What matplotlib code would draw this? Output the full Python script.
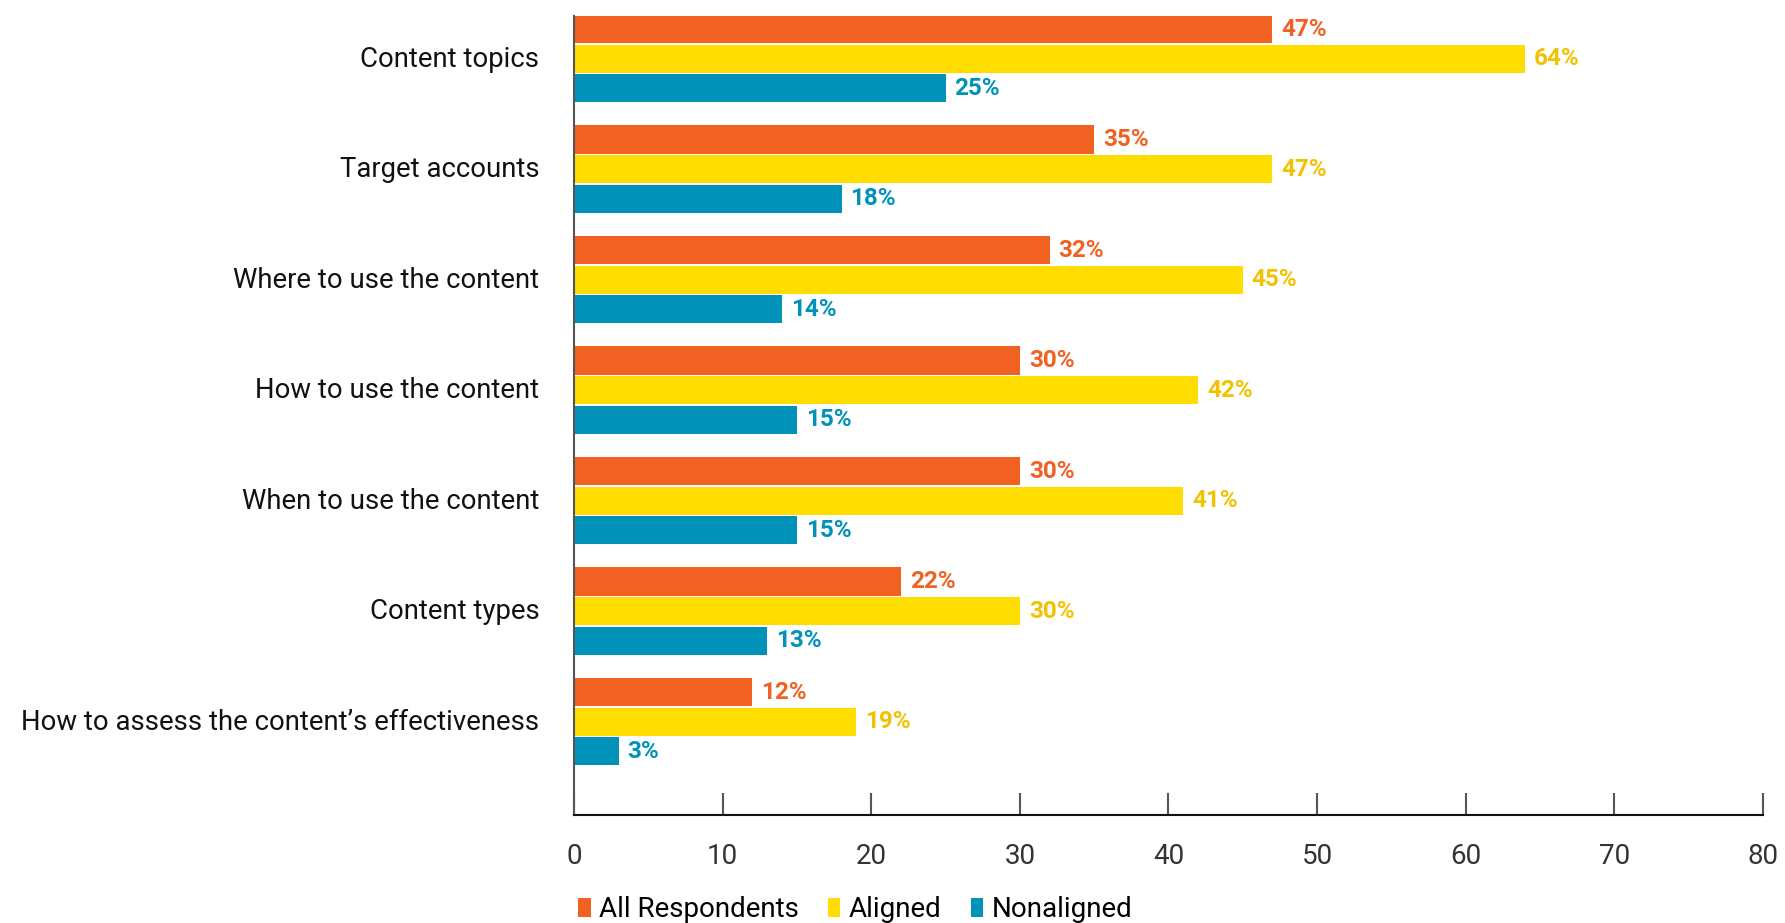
import matplotlib.pyplot as plt
import numpy as np

plt.rcParams['font.family'] = ['Roboto', 'DejaVu Sans']

# datos
categorias = ["Content topics", "Target accounts", "Where to use the content",
              "How to use the content", "When to use the content", "Content types",
              "How to assess the content\u2019s effectiveness"]
todos = [47, 35, 32, 30, 30, 22, 12]
alineados = [64, 47, 45, 42, 41, 30, 19]
no_alineados = [25, 18, 14, 15, 15, 13, 3]
series = ["All Respondents", "Aligned", "Nonaligned"]

colores = ["#F06122", "#FFDD00", "#0092B8"]
colores_txt = ["#F06122", "#F2C200", "#0092B8"]

fig = plt.figure(figsize=(17.85, 9.23), dpi=100)
ax = fig.add_axes([0.3216, 0.117, 0.666, 0.8657])

y = np.arange(len(categorias))
alto = 0.255
paso = 0.268
for k, (vals, nombre) in enumerate(zip([todos, alineados, no_alineados], series)):
    pos = y + (k - 1) * paso
    ax.barh(pos, vals, height=alto, color=colores[k], label=nombre)
    for p, v in zip(pos, vals):
        ax.text(v + 0.6, p, f"{v}%", va="center", ha="left", fontsize=17.5,
                fontweight="bold", color=colores_txt[k])

ax.set_ylim(6.845, -0.386)
ax.set_xlim(0, 80)
ax.set_xticks(range(0, 81, 10))
ax.set_yticks(y - 0.02)
ax.set_yticklabels(categorias, fontsize=19.8, color="#111111")
ax.tick_params(axis="y", length=0, pad=25)
ax.tick_params(axis="x", direction="in", length=16, width=1.5, color="#555555",
               labelsize=20, labelcolor="#333333", pad=20)

for s in ["top", "right"]:
    ax.spines[s].set_visible(False)
ax.spines["left"].set_color("#555555")
ax.spines["left"].set_linewidth(1.5)
ax.spines["bottom"].set_color("#111111")
ax.spines["bottom"].set_linewidth(1.5)

ax.legend(loc="upper left", bbox_to_anchor=(-0.006, -0.088), ncol=3, frameon=False,
          fontsize=20, handlelength=0.45, handleheight=0.7, handletextpad=0.3,
          columnspacing=1.05, borderaxespad=0)

plt.savefig("out.png", dpi=100)
